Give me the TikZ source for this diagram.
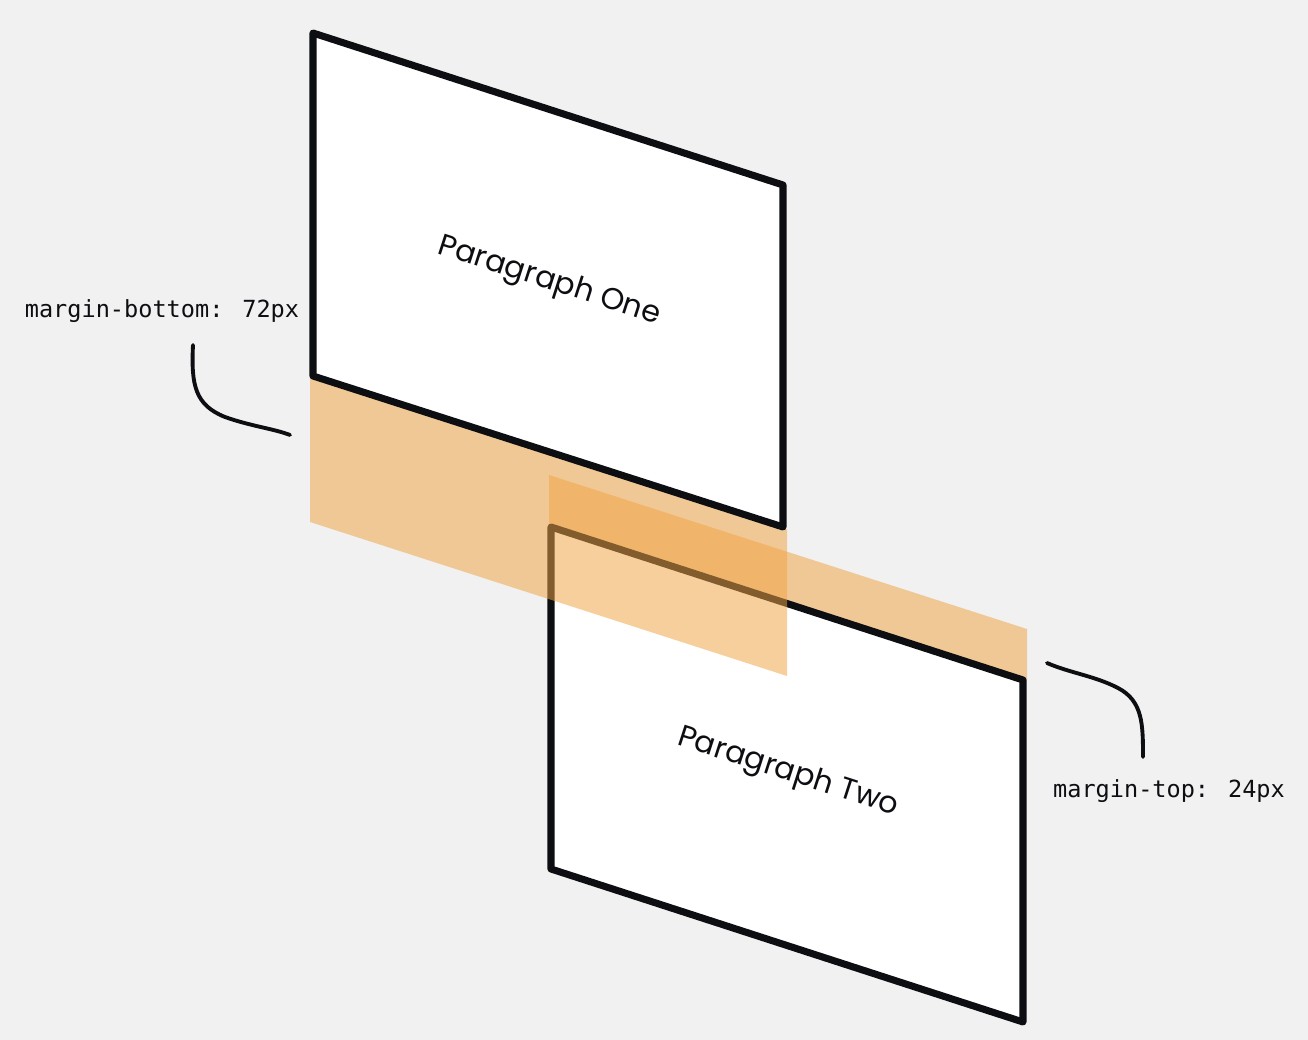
\documentclass[tikz,border=0pt]{standalone}
\usepackage{fontspec}
\newfontfamily\parafont{Poppins}
\newfontfamily\codefont{DejaVu Sans Mono}
\usetikzlibrary{positioning}

\definecolor{bgcol}{HTML}{F1F1F1}
\definecolor{inkcol}{HTML}{0C0E12}
\definecolor{margincol}{HTML}{F0A444}

\begin{document}
\begin{tikzpicture}[
    x=0.01cm, y=-0.01cm,
    panel/.style={draw=inkcol, fill=white, line width=2pt, line join=round},
    marginband/.style={fill=margincol, fill opacity=0.52},
    paralabel/.style={font=\parafont\fontsize{8.6}{10}\selectfont, rotate=-17.9, text=inkcol},
    codelabel/.style={font=\codefont\fontsize{6.7}{8}\selectfont, text=inkcol},
    leader/.style={draw=inkcol, line width=1.1pt, line cap=round},
  ]

  % Background
  \fill[bgcol] (0,0) rectangle (1308,1040);

  % Corners of the two boxes
  \coordinate (oneA) at (313,33);
  \coordinate (oneB) at (783,185);
  \coordinate (oneC) at (783,527);
  \coordinate (oneD) at (313,376);
  \coordinate (twoA) at (551,527);
  \coordinate (twoB) at (1023,680);
  \coordinate (twoC) at (1023,1022);
  \coordinate (twoD) at (551,869);

  % Margin-top band, under box two
  \fill[marginband] (549,475) -- (1027,629) -- (1027,680) -- (549,526) -- cycle;

  % Box two
  \draw[panel] (twoA) -- (twoB) -- (twoC) -- (twoD) -- cycle;
  \node[paralabel] (two) at (788,773) {Paragraph Two};

  % Margin-bottom band, over box two
  \fill[marginband] (310,375) -- (787,529) -- (787,676) -- (310,522) -- cycle;

  % Box one
  \draw[panel] (oneA) -- (oneB) -- (oneC) -- (oneD) -- cycle;
  \node[paralabel] (one) at (549,282) {Paragraph One};

  % Labels and leaders
  \node[codelabel] (mbottom) at (162,311) {margin-bottom: 72px};
  \node[codelabel] (mtop) at (1169,791) {margin-top: 24px};
  \coordinate (mbEnd) at (290,435);
  \coordinate (mtEnd) at (1047,663);
  \draw[leader] (193,345) .. controls (191,385) and (195,405) .. (225,417)
    .. controls (250,426) and (275,429) .. (mbEnd);
  \draw[leader] (mtEnd) .. controls (1070,673) and (1095,676) .. (1118,688)
    .. controls (1143,701) and (1143,725) .. (1143,757);

\end{tikzpicture}
\end{document}
